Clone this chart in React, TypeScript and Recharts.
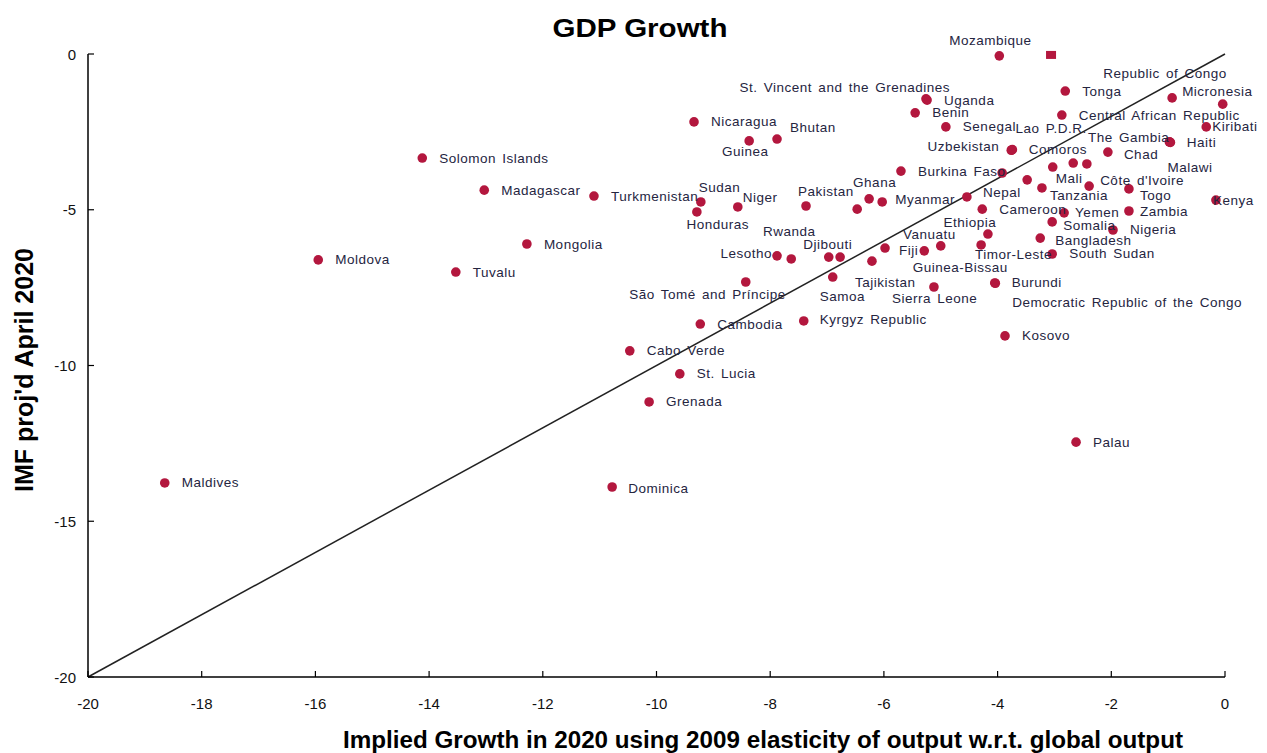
import React from 'react';
import { ScatterChart, Scatter, XAxis, YAxis, ReferenceLine } from 'recharts';

// countries with their label, x = implied growth, y = IMF projection
const countries = [
  'Mozambique', 'Republic of Congo', 'Tonga', 'Micronesia', 'St. Vincent and the Grenadines',
  'Uganda', 'Benin', 'Senegal', 'Lao P.D.R.', 'Central African Republic',
  'Kiribati', 'The Gambia', 'Haiti', 'Nicaragua', 'Bhutan',
  'Guinea', 'Uzbekistan', 'Comoros', 'Chad', 'Solomon Islands',
  'Malawi', 'Burkina Faso', 'Mali', "Côte d'Ivoire", 'Madagascar',
  'Turkmenistan', 'Sudan', 'Niger', 'Pakistan', 'Ghana',
  'Myanmar', 'Nepal', 'Tanzania', 'Togo', 'Kenya',
  'Honduras', 'Cameroon', 'Yemen', 'Zambia', 'Ethiopia',
  'Somalia', 'Nigeria', 'Rwanda', 'Mongolia', 'Moldova',
  'Lesotho', 'Djibouti', 'Vanuatu', 'Fiji', 'Guinea-Bissau',
  'Bangladesh', 'Timor-Leste', 'South Sudan', 'Tuvalu', 'Tajikistan',
  'Burundi', 'São Tomé and Príncipe', 'Samoa', 'Sierra Leone', 'Democratic Republic of the Congo',
  'Cambodia', 'Kyrgyz Republic', 'Kosovo', 'Cabo Verde', 'St. Lucia',
  'Grenada', 'Palau', 'Maldives', 'Dominica',
];

const impliedGrowth = [
  -3.97, -0.04, -2.81, -0.93, -5.26,
  -5.24, -5.45, -4.91, -3.74, -2.87,
  -0.33, -0.98, -0.97, -9.34, -7.88,
  -8.37, -3.76, -3.75, -2.06, -14.12,
  -0.96, -5.70, -3.03, -2.39, -13.03,
  -11.10, -9.22, -8.57, -7.37, -6.26,
  -6.03, -4.54, -3.22, -1.69, -0.16,
  -9.29, -4.27, -2.83, -1.69, -4.17,
  -3.04, -1.97, -7.63, -12.28, -15.95,
  -7.88, -6.97, -5.98, -5.29, -5.00,
  -3.25, -4.29, -3.04, -13.53, -6.21,
  -4.05, -8.43, -6.90, -5.12, -4.04,
  -9.23, -7.41, -3.87, -10.47, -9.59,
  -10.13, -2.62, -18.65, -10.78,
];

const imfProjected = [
  -0.06, -1.61, -1.19, -1.41, -1.44,
  -1.48, -1.89, -2.34, -3.07, -1.96,
  -2.34, -2.82, -2.83, -2.18, -2.73,
  -2.79, -3.09, -3.08, -3.15, -3.34,
  -2.84, -3.76, -3.63, -4.24, -4.37,
  -4.56, -4.75, -4.91, -4.88, -4.65,
  -4.75, -4.59, -4.30, -4.33, -4.69,
  -5.07, -4.98, -5.10, -5.04, -5.78,
  -5.39, -5.65, -6.58, -6.10, -6.61,
  -6.48, -6.52, -6.23, -6.32, -6.16,
  -5.91, -6.13, -6.42, -7.00, -6.65,
  -7.35, -7.32, -7.16, -7.48, -7.36,
  -8.67, -8.57, -9.05, -9.53, -10.27,
  -11.17, -12.46, -13.77, -13.90,
];

// points drawn without a visible label
const unlabeledX = [-3.92, -3.48, -2.67, -2.43, -6.47, -6.77];
const unlabeledY = [-3.82, -4.04, -3.50, -3.53, -4.98, -6.52];

// the square marker at the top edge
const squareX = [-3.06];
const squareY = [-0.03];

const xTicks = [-20, -18, -16, -14, -12, -10, -8, -6, -4, -2, 0];
const yTicks = [-20, -15, -10, -5, 0];

const labeled = countries.map((name, i) => ({ name, x: impliedGrowth[i], y: imfProjected[i] }));
const unlabeled = unlabeledX.map((x, i) => ({ x, y: unlabeledY[i] }));
const squares = squareX.map((x, i) => ({ x, y: squareY[i] }));

// label placement: [anchor, dx, dy] relative to the dot; default is to the right
type Place = ['start' | 'middle' | 'end', number, number];
const DEFAULT_PLACE: Place = ['start', 17, 0];
const labelPlace: Record<string, Place> = {
  Mozambique: ['middle', -9, -15],
  'Republic of Congo': ['end', 4, -31],
  Micronesia: ['start', 10, -6],
  'St. Vincent and the Grenadines': ['end', 24, -11],
  'Lao P.D.R.': ['start', 3, -21],
  Kiribati: ['start', 6, 0],
  'The Gambia': ['end', 0, -4],
  Bhutan: ['start', 13, -12],
  Guinea: ['middle', -4, 11],
  Uzbekistan: ['end', -12, -4],
  Malawi: ['start', -3, 25],
  Mali: ['start', 3, 11],
  "Côte d'Ivoire": ['start', 11, -6],
  Sudan: ['start', -2, -14],
  Niger: ['start', 5, -9],
  Pakistan: ['start', -8, -15],
  Ghana: ['start', -16, -16],
  Myanmar: ['start', 13, -2],
  Nepal: ['start', 16, -4],
  Tanzania: ['start', 8, 8],
  Togo: ['start', 11, 7],
  Kenya: ['start', -3, 0],
  Honduras: ['middle', 21, 13],
  Yemen: ['start', 11, 0],
  Zambia: ['start', 11, 1],
  Ethiopia: ['middle', -18, -12],
  Somalia: ['start', 11, 4],
  Rwanda: ['middle', -2, -27],
  Lesotho: ['end', -5, -2],
  Djibouti: ['middle', -1, -13],
  Vanuatu: ['start', 18, -14],
  Fiji: ['end', -6, 0],
  'Guinea-Bissau': ['start', -28, 22],
  Bangladesh: ['start', 15, 2],
  'Timor-Leste': ['start', -6, 10],
  Tajikistan: ['start', -17, 21],
  'São Tomé and Príncipe': ['end', 40, 12],
  Samoa: ['start', -13, 19],
  'Sierra Leone': ['start', -42, 11],
  'Democratic Republic of the Congo': ['start', 17, 19],
  'Kyrgyz Republic': ['start', 16, -1],
  Dominica: ['start', 16, 2],
  Chad: ['start', 16, 2],
};

const DOT = '#b3173e';
const LABEL = '#25253f';
const FONT = 'Liberation Sans, Arial, sans-serif';

function Dot(props: any) {
  const { cx, cy } = props;
  return <circle cx={cx} cy={cy} r={4.8} fill={DOT} />;
}

function SquareDot(props: any) {
  const { cx, cy } = props;
  return <rect x={cx - 5} y={cy - 4} width={10} height={8} fill={DOT} />;
}

function PointLabel(props: any) {
  const { cx, cy, payload } = props;
  const [anchor, dx, dy] = labelPlace[payload.name] || DEFAULT_PLACE;
  return (
    <text
      x={cx + dx}
      y={cy + dy}
      textAnchor={anchor}
      dominantBaseline="central"
      fontSize={13.5}
      letterSpacing={0.5}
      wordSpacing={2}
      fontFamily={FONT}
      fill={LABEL}
    >
      {payload.name}
    </text>
  );
}

function XTick(props: any) {
  const { x, y, payload } = props;
  return (
    <g>
      <line x1={x} y1={y} x2={x} y2={y - 6} stroke="#000" strokeWidth={1.2} />
      <text x={x} y={y + 26} textAnchor="middle" dominantBaseline="central" fontSize={15} fontFamily={FONT} fill="#111">
        {payload.value}
      </text>
    </g>
  );
}

function YTick(props: any) {
  const { x, y, payload } = props;
  return (
    <g>
      <line x1={x} y1={y} x2={x + 6} y2={y} stroke="#000" strokeWidth={1.2} />
      <text x={x - 12} y={y} textAnchor="end" dominantBaseline="central" fontSize={15} fontFamily={FONT} fill="#111">
        {payload.value}
      </text>
    </g>
  );
}

export default function App() {
  const W = 1251;
  const H = 745;
  return (
    <div style={{ position: 'relative', width: W, height: H, background: '#fff' }}>
      <style>{'html,body{overflow:hidden}'}</style>
      <ScatterChart width={W} height={H} margin={{ top: 46, right: 34, bottom: 0, left: 0 }}>
        <XAxis
          type="number"
          dataKey="x"
          domain={[-20, 0]}
          ticks={xTicks}
          interval={0}
          height={76}
          tickSize={0}
          tickMargin={0}
          tickLine={false}
          axisLine={{ stroke: '#000', strokeWidth: 1.5 }}
          tick={<XTick />}
        />
        <YAxis
          type="number"
          dataKey="y"
          domain={[-20, 0]}
          ticks={yTicks}
          interval={0}
          width={80}
          tickSize={0}
          tickMargin={0}
          tickLine={false}
          axisLine={{ stroke: '#000', strokeWidth: 1.5 }}
          tick={<YTick />}
        />
        <ReferenceLine
          segment={[{ x: -20, y: -20 }, { x: 0, y: 0 }]}
          stroke="#222"
          strokeWidth={1.5}
          ifOverflow="visible"
        />
        <Scatter data={unlabeled} shape={<Dot />} isAnimationActive={false} />
        <Scatter data={squares} shape={<SquareDot />} isAnimationActive={false} />
        <Scatter data={labeled} shape={<Dot />} isAnimationActive={false} />
        <Scatter data={labeled} shape={<PointLabel />} isAnimationActive={false} />
      </ScatterChart>
      <svg
        width={W}
        height={H}
        style={{ position: 'absolute', left: 0, top: 0, pointerEvents: 'none' }}
      >
        <text x={632} y={20} textAnchor="middle" dominantBaseline="central" fontSize={26} fontWeight="bold" fontFamily={FONT} fill="#000" textLength={175} lengthAdjust="spacingAndGlyphs">
          GDP Growth
        </text>
        <text x={755} y={732} textAnchor="middle" dominantBaseline="central" fontSize={23} fontWeight="bold" fontFamily={FONT} fill="#000" textLength={840} lengthAdjust="spacingAndGlyphs">
          Implied Growth in 2020 using 2009 elasticity of output w.r.t. global output
        </text>
        <text
          x={16}
          y={362}
          transform="rotate(-90 16 362)"
          textAnchor="middle"
          dominantBaseline="central"
          fontSize={25}
          fontWeight="bold"
          fontFamily={FONT}
          fill="#000"
          textLength={244}
          lengthAdjust="spacingAndGlyphs"
        >
          IMF proj'd April 2020
        </text>
      </svg>
    </div>
  );
}
